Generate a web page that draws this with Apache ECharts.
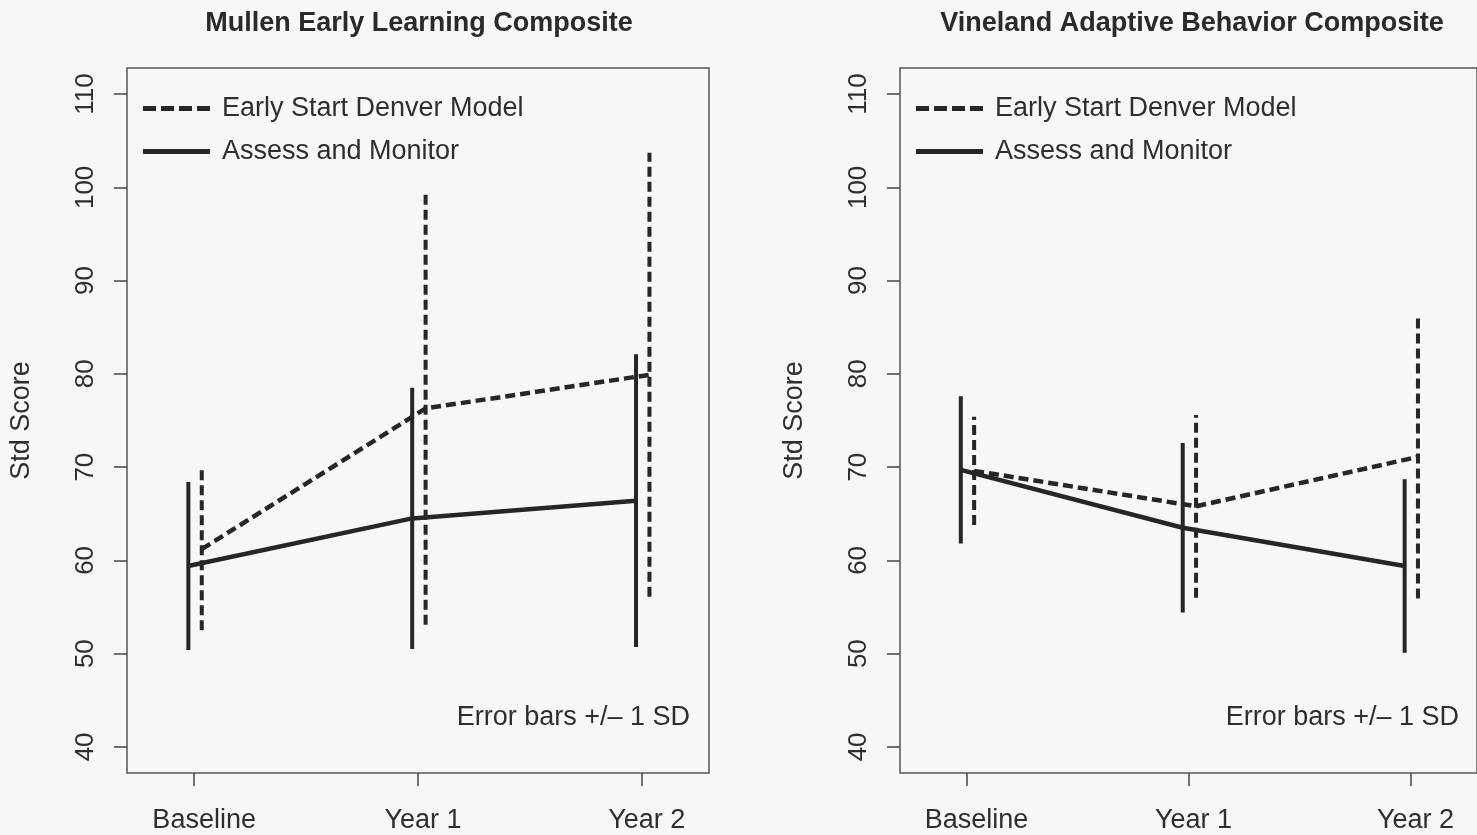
<!DOCTYPE html>
<html>
<head>
<meta charset="utf-8">
<script src="https://cdn.jsdelivr.net/npm/echarts@6/dist/echarts.min.js"></script>
<style>
html,body{margin:0;padding:0;background:#f7f7f6;}
#chart{width:1477px;height:835px;}
</style>
</head>
<body>
<div id="chart"></div>
<script>
// ---- data ----
const categories = ['Baseline', 'Year 1', 'Year 2'];
const yTicks = [40, 50, 60, 70, 80, 90, 100, 110];
const panelTitles = ['Mullen Early Learning Composite', 'Vineland Adaptive Behavior Composite'];
const seriesNames = ['Early Start Denver Model', 'Assess and Monitor'];

const mullenESDMMean = [61.2, 76.3, 79.9];
const mullenESDMSD   = [8.7, 23.2, 23.8];
const mullenAMMean   = [59.4, 64.5, 66.4];
const mullenAMSD     = [9.0, 14.0, 15.7];

const vinelandESDMMean = [69.6, 65.8, 71.1];
const vinelandESDMSD   = [5.8, 9.8, 15.2];
const vinelandAMMean   = [69.7, 63.5, 59.4];
const vinelandAMSD     = [7.9, 9.1, 9.3];

// ---- style constants ----
const FONT = "'Liberation Sans', Arial, Helvetica, sans-serif";
const INK = '#262626';
const TXT = '#2e2e2e';
const DASH = [10, 5];
const OFF_ESDM = 0.034, OFF_AM = -0.026;
const ICON_DASHED = 'path://M0,0h13v5h-13z M18,0h13v5h-13z M36,0h13v5h-13z M54,0h13v5h-13z';
const ICON_SOLID = 'path://M0,0h67v5h-67z';

const panels = [
  {esdm: [mullenESDMMean, mullenESDMSD], am: [mullenAMMean, mullenAMSD]},
  {esdm: [vinelandESDMMean, vinelandESDMSD], am: [vinelandAMMean, vinelandAMSD]}
];
const gridsPos = [{left: 127, width: 582}, {left: 900, width: 582}];

function meanData(means, off) {
  return means.map((m, i) => [i + 1 + off, m]);
}
function barData(means, sds, off) {
  return means.map((m, i) => [i + 1 + off, m - sds[i], m + sds[i]]);
}
function errRender(dashed) {
  return function (params, api) {
    const x = api.value(0);
    const p1 = api.coord([x, api.value(1)]);
    const p2 = api.coord([x, api.value(2)]);
    return {
      type: 'line',
      shape: {x1: p1[0], y1: p1[1], x2: p2[0], y2: p2[1]},
      style: {stroke: INK, lineWidth: 4, lineDash: dashed ? DASH : null, lineCap: 'butt'}
    };
  };
}

const grid = [], xAxis = [], yAxis = [], series = [], legend = [], title = [], graphic = [];
panels.forEach((p, k) => {
  grid.push({left: gridsPos[k].left, width: gridsPos[k].width, top: 68, height: 705,
    show: true, borderColor: '#555', borderWidth: 1.5, backgroundColor: 'transparent'});
  xAxis.push({type: 'value', gridIndex: k, min: 0.7, max: 3.3,
    axisLine: {show: false}, splitLine: {show: false},
    axisTick: {show: true, inside: false, length: 13, lineStyle: {color: '#444', width: 1.5}, customValues: [1, 2, 3]},
    axisLabel: {customValues: [1, 2, 3], margin: 34, fontFamily: FONT, fontSize: 27, color: TXT,
      formatter: v => {
        const i = Math.round(v) - 1;
        return (i === 0 ? '{f|' : '{n|') + categories[i] + '}';
      },
      rich: {
        f: {fontFamily: FONT, fontSize: 27, color: TXT, padding: [0, 0, 0, 20]},
        n: {fontFamily: FONT, fontSize: 27, color: TXT, padding: [0, 0, 0, 10]}
      }
    }
  });
  yAxis.push({type: 'value', gridIndex: k, min: 37.2, max: 112.8,
    axisLine: {show: false}, splitLine: {show: false},
    name: 'Std Score', nameLocation: 'middle', nameRotate: 90, nameGap: 92,
    nameTextStyle: {fontFamily: FONT, fontSize: 27, color: TXT},
    axisTick: {show: true, length: 13, lineStyle: {color: '#444', width: 1.5}, customValues: yTicks},
    axisLabel: {customValues: yTicks, rotate: 90, margin: 28, fontFamily: FONT, fontSize: 26, color: TXT}
  });
  series.push({name: seriesNames[0], type: 'line', xAxisIndex: k, yAxisIndex: k,
    data: meanData(p.esdm[0], OFF_ESDM), symbol: 'none', z: 3,
    lineStyle: {color: INK, width: 4.5, type: DASH}, itemStyle: {color: INK}});
  series.push({name: seriesNames[1], type: 'line', xAxisIndex: k, yAxisIndex: k,
    data: meanData(p.am[0], OFF_AM), symbol: 'none', z: 3,
    lineStyle: {color: INK, width: 4.5, type: 'solid'}, itemStyle: {color: INK}});
  series.push({type: 'custom', xAxisIndex: k, yAxisIndex: k, z: 2,
    data: barData(p.esdm[0], p.esdm[1], OFF_ESDM), renderItem: errRender(true)});
  series.push({type: 'custom', xAxisIndex: k, yAxisIndex: k, z: 2,
    data: barData(p.am[0], p.am[1], OFF_AM), renderItem: errRender(false)});
  legend.push({orient: 'vertical', left: gridsPos[k].left + 16, top: 94, padding: 0,
    itemWidth: 67, itemHeight: 5, itemGap: 14,
    textStyle: {fontFamily: FONT, fontSize: 27, color: TXT, padding: [0, 0, 0, 7], lineHeight: 29},
    data: [
      {name: seriesNames[0], icon: ICON_DASHED, itemStyle: {color: INK}},
      {name: seriesNames[1], icon: ICON_SOLID, itemStyle: {color: INK}}
    ],
    selectedMode: false});
  title.push({text: panelTitles[k], left: gridsPos[k].left + gridsPos[k].width / 2 - 4, textAlign: 'center', top: 5,
    textStyle: {fontFamily: FONT, fontSize: 27, fontWeight: 'bold', color: '#2a2a2a'}});
  graphic.push({type: 'text', right: k === 0 ? 787 : 18, top: 704,
    style: {text: 'Error bars +/\u2013 1 SD', font: "27px " + FONT, fill: TXT}});
});

const chart = echarts.init(document.getElementById('chart'), null, {renderer: 'canvas'});
chart.setOption({
  backgroundColor: '#f7f7f6',
  animation: false,
  title, grid, xAxis, yAxis, series, legend, graphic
});
</script>
</body>
</html>
